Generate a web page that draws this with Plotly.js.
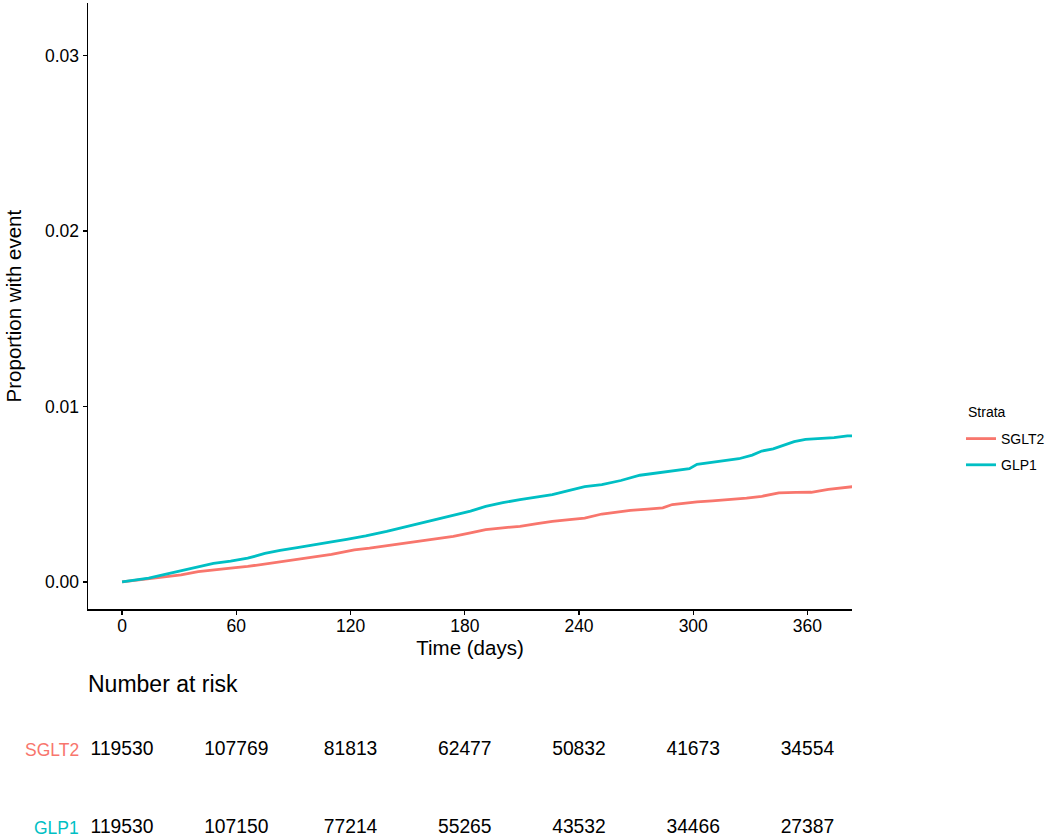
<!DOCTYPE html>
<html>
<head>
<meta charset="utf-8">
<script src="https://cdn.plot.ly/plotly-3.0.1.min.js"></script>
<style>html,body{margin:0;padding:0;background:#fff;}#chart{width:1050px;height:839px;}</style>
</head>
<body>
<div id="chart"></div>
<script>
// ---- data ----
const strata = ["SGLT2", "GLP1"];
const strataColors = ["#F8766D", "#00BFC4"];

const sglt2Days = [0,7,14,22,31,40,48,57,66,75,83,92,101,110,118,122,130,139,148,156,165,174,183,191,200,209,218,226,235,243,252,260,267,276,284,289,296,302,310,319,328,336,345,354,362,371,381,384];
const sglt2Prop = [0,0.0001,0.00016,0.0003,0.0004,0.00058,0.00069,0.00079,0.00088,0.00102,0.00116,0.00128,0.00141,0.00157,0.00174,0.00183,0.00192,0.00206,0.0022,0.00235,0.00248,0.0026,0.0028,0.00298,0.00308,0.00317,0.00332,0.00345,0.00355,0.00364,0.00387,0.00398,0.00408,0.00415,0.00422,0.00441,0.0045,0.00456,0.00462,0.00469,0.00478,0.00488,0.00508,0.0051,0.00511,0.00527,0.00542,0.00543];

const glp1Days = [0,7,14,22,31,40,48,57,66,75,83,92,101,110,118,128,139,148,156,165,174,183,191,200,209,218,226,235,243,252,262,272,284,293,298,302,310,319,324,331,336,342,348,353,359,366,374,381,384];
const glp1Prop = [0,0.0001,0.00021,0.00042,0.00065,0.00088,0.00105,0.00118,0.00135,0.00162,0.0018,0.00195,0.0021,0.00228,0.00243,0.00262,0.00288,0.00312,0.00336,0.0036,0.00382,0.00404,0.0043,0.00452,0.00469,0.00484,0.00498,0.00522,0.00543,0.00555,0.00578,0.00608,0.00626,0.00638,0.00645,0.0067,0.00682,0.00693,0.00702,0.00723,0.00746,0.00758,0.0078,0.008,0.00813,0.00818,0.00822,0.00832,0.00832];

const xTicks = [0, 60, 120, 180, 240, 300, 360];
const yTicks = [0, 0.01, 0.02, 0.03];
const yTickLabels = ["0.00", "0.01", "0.02", "0.03"];

const riskTimes = [0, 60, 120, 180, 240, 300, 360];
const riskSGLT2 = [119530, 107769, 81813, 62477, 50832, 41673, 34554];
const riskGLP1 = [119530, 107150, 77214, 55265, 43532, 34466, 27387];

const xTitle = "Time (days)";
const yTitle = "Proportion with event";
const legendTitle = "Strata";
const riskTitle = "Number at risk";

// ---- build ----
const FONT = "Liberation Sans, Arial, Helvetica, sans-serif";
const xRange = [-17.9, 383.4];
const riskRows = [riskSGLT2, riskGLP1];
const rowY = [1, 0];

const traces = [
  {x: sglt2Days, y: sglt2Prop, mode: "lines", name: strata[0], legendgroup: "a",
   line: {color: strataColors[0], width: 2.8}, xaxis: "x", yaxis: "y", hoverinfo: "skip"},
  {x: glp1Days, y: glp1Prop, mode: "lines", name: strata[1], legendgroup: "b",
   line: {color: strataColors[1], width: 2.8}, xaxis: "x", yaxis: "y", hoverinfo: "skip"}
];
riskRows.forEach((row, i) => {
  traces.push({
    x: riskTimes, y: riskTimes.map(() => rowY[i]), text: row.map(String),
    mode: "text", textposition: "middle center", cliponaxis: false,
    textfont: {family: FONT, size: 19.3, color: "#000"},
    xaxis: "x2", yaxis: "y2", showlegend: false, hoverinfo: "skip"
  });
});

const annotations = strata.map((s, i) => ({
  text: s, xref: "paper", x: 0, xanchor: "right", xshift: -7,
  yref: "y2", y: rowY[i], yanchor: "middle", showarrow: false,
  font: {family: FONT, size: 17.5, color: strataColors[i]}
}));
annotations.push({
  text: riskTitle, xref: "paper", x: 0, xanchor: "left", xshift: -2, yref: "y2", y: 1.846,
  yanchor: "middle", showarrow: false, font: {family: FONT, size: 23, color: "#000"}
});
annotations.push({
  text: legendTitle, xref: "paper", x: (969 - 88) / 767, xanchor: "left",
  yref: "paper", y: (839 - 412) / 836, yanchor: "middle", showarrow: false,
  font: {family: FONT, size: 14, color: "#000"}
});

const layout = {
  width: 1050, height: 839,
  margin: {l: 88, r: 195, t: 3, b: 0, pad: 0},
  paper_bgcolor: "#fff", plot_bgcolor: "#fff",
  font: {family: FONT, color: "#000"},
  showlegend: true,
  legend: {
    x: (965 - 88) / 767, xanchor: "left", y: (839 - 423) / 836, yanchor: "top",
    font: {family: FONT, size: 14, color: "#000"},
    tracegroupgap: 5, bgcolor: "rgba(0,0,0,0)"
  },
  xaxis: {
    domain: [0, 1], anchor: "y", range: xRange, tickvals: xTicks,
    showgrid: false, zeroline: false, showline: true, linecolor: "#000", linewidth: 1.5,
    ticks: "outside", ticklen: 4, tickwidth: 1.2, tickcolor: "#000",
    tickfont: {family: FONT, size: 17.5, color: "#000"}, ticklabelstandoff: -4,
    title: {text: xTitle, font: {family: FONT, size: 20.5, color: "#000"}, standoff: 0},
    automargin: false
  },
  yaxis: {
    domain: [0.2748, 1], anchor: "x", range: [-0.00156, 0.0330],
    tickvals: yTicks, ticktext: yTickLabels,
    showgrid: false, zeroline: false, showline: true, linecolor: "#000", linewidth: 1.5,
    ticks: "outside", ticklen: 4, tickwidth: 1.2, tickcolor: "#000",
    tickfont: {family: FONT, size: 17.5, color: "#000"},
    title: {text: yTitle, font: {family: FONT, size: 20.5, color: "#000"}, standoff: 18},
    automargin: false
  },
  xaxis2: {
    domain: [0, 1], anchor: "y2", range: xRange, visible: false, showgrid: false, zeroline: false
  },
  yaxis2: {
    domain: [0, 0.2], anchor: "x2", range: [-0.141, 2.003], visible: false, showgrid: false, zeroline: false
  },
  annotations: annotations
};

Plotly.newPlot("chart", traces, layout, {displayModeBar: false, staticPlot: true});
</script>
</body>
</html>
